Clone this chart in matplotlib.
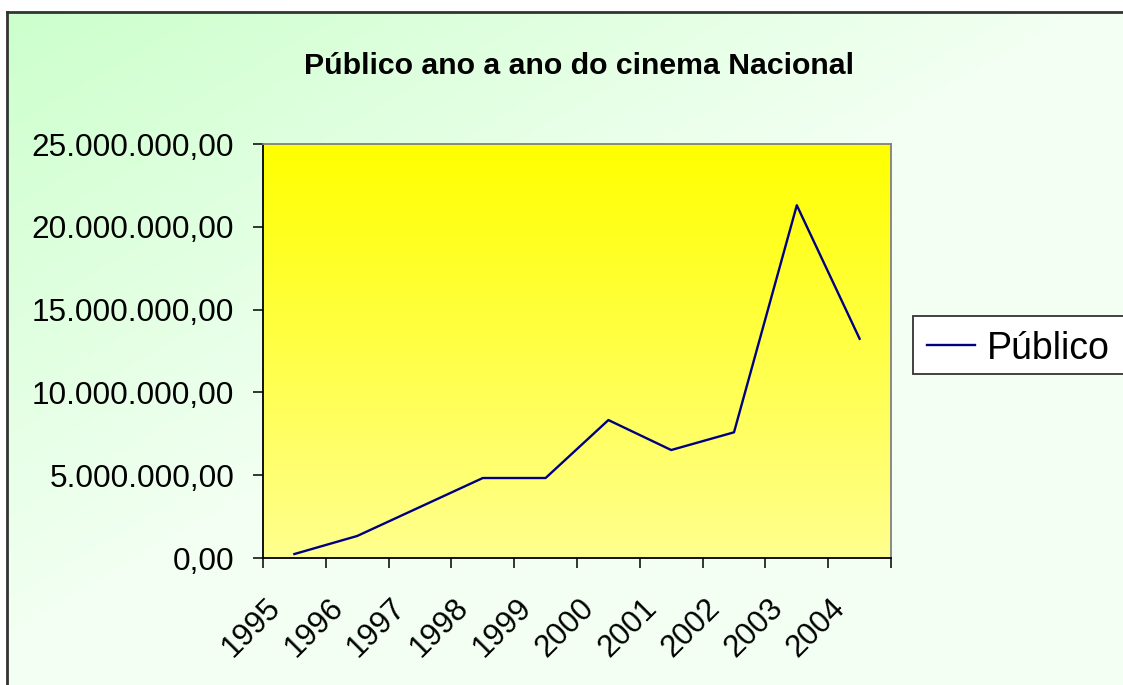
import numpy as np
import matplotlib
matplotlib.use('Agg')
import matplotlib.pyplot as plt
from matplotlib.ticker import FuncFormatter, FixedLocator
from matplotlib.transforms import ScaledTranslation
from matplotlib.patches import Rectangle
from matplotlib.lines import Line2D

plt.rcParams['font.family'] = ['Liberation Sans', 'DejaVu Sans']

# data
anos = ['1995', '1996', '1997', '1998', '1999', '2000', '2001', '2002', '2003', '2004']
publico = [0.24e6, 1.33e6, 3.08e6, 4.83e6, 4.83e6, 8.33e6, 6.52e6, 7.59e6, 21.3e6, 13.24e6]
y_ticks = [0, 5e6, 10e6, 15e6, 20e6, 25e6]
titulo = 'Público ano a ano do cinema Nacional'
serie = 'Público'

W, H = 1123, 685
fig = plt.figure(figsize=(W / 100, H / 100), dpi=100, facecolor='white')


def fx(px):
    return px / W


def fy(py):
    return 1 - py / H


# chart area background (green gradient from the top-left corner)
bg = fig.add_axes([fx(7), -0.02, 1.05, fy(12) + 0.02], zorder=0)
gx, gy = np.meshgrid(np.linspace(0, 1, 300), np.linspace(0, 1, 200))
t = np.clip((gx + gy) * 1.1, 0, 1)
c0 = np.array([0.80, 1.0, 0.80])
c1 = np.array([0.95, 1.0, 0.95])
img = c0[None, None, :] * (1 - t[..., None]) + c1[None, None, :] * t[..., None]
bg.imshow(img, aspect='auto', extent=(0, 1, 0, 1), origin='upper')
bg.set_xlim(0, 1)
bg.set_ylim(0, 1)
bg.set_xticks([])
bg.set_yticks([])
for s in ['right', 'bottom']:
    bg.spines[s].set_visible(False)
for s in ['left', 'top']:
    bg.spines[s].set_color('#333333')
    bg.spines[s].set_linewidth(2)

# plot area
ax = fig.add_axes([fx(263), fy(558), fx(891) - fx(263), fy(144) - fy(558)], zorder=1)
x = np.arange(len(anos))
ax.set_xlim(-0.5, len(anos) - 0.5)
ax.set_ylim(0, 25e6)

pg = np.linspace(0, 1, 256)[:, None]
top_c = np.array([1.0, 1.0, 0.0])
bot_c = np.array([1.0, 1.0, 0.56])
grad = top_c[None, None, :] * (1 - pg[..., None]) + bot_c[None, None, :] * pg[..., None]
ax.imshow(grad, aspect='auto', extent=(-0.5, len(anos) - 0.5, 0, 25e6),
          origin='upper', zorder=0)

ax.plot(x, publico, color='#000080', linewidth=1.7, label=serie, zorder=2)

# axes styling
ax.spines['left'].set_color('#000000')
ax.spines['bottom'].set_color('#000000')
ax.spines['top'].set_color('#808080')
ax.spines['right'].set_color('#808080')
for s in ax.spines.values():
    s.set_linewidth(1.3)

ax.yaxis.set_major_locator(FixedLocator(y_ticks))
ax.yaxis.set_major_formatter(FuncFormatter(
    lambda v, p: '{:,.2f}'.format(v).replace(',', 'X').replace('.', ',').replace('X', '.')))
ax.tick_params(axis='y', length=7.2, width=1.1, pad=13.5, labelsize=22.7, colors='black')

ax.set_xticks(x)
ax.set_xticklabels(anos)
ax.set_xticks(np.arange(len(anos) + 1) - 0.5, minor=True)
ax.tick_params(axis='x', which='major', length=0, pad=37, labelsize=22.3)
ax.tick_params(axis='x', which='minor', length=7.2, width=1.1)
off = ScaledTranslation(-13 / 100, 0, fig.dpi_scale_trans)
for lbl in ax.get_xticklabels():
    lbl.set_rotation(45)
    lbl.set_ha('right')
    lbl.set_va('baseline')
    lbl.set_rotation_mode('anchor')
    lbl.set_transform(lbl.get_transform() + off)

fig.text(fx(579), fy(74), titulo, ha='center', va='baseline',
         fontsize=21.8, fontweight='bold')

# legend box, runs past the right edge like in the original
fig.patches.append(Rectangle((fx(913), fy(374)), fx(1140) - fx(913), fy(316) - fy(374),
                             transform=fig.transFigure, facecolor='white',
                             edgecolor='#333333', linewidth=1.3, zorder=3))
fig.lines.append(Line2D([fx(927), fx(975)], [fy(345), fy(345)], transform=fig.transFigure,
                        color='#000080', linewidth=1.7, zorder=4))
fig.text(fx(987), fy(345), serie, ha='left', va='center_baseline', fontsize=27, zorder=4)

fig.savefig('out.png', dpi=100, facecolor='white')
